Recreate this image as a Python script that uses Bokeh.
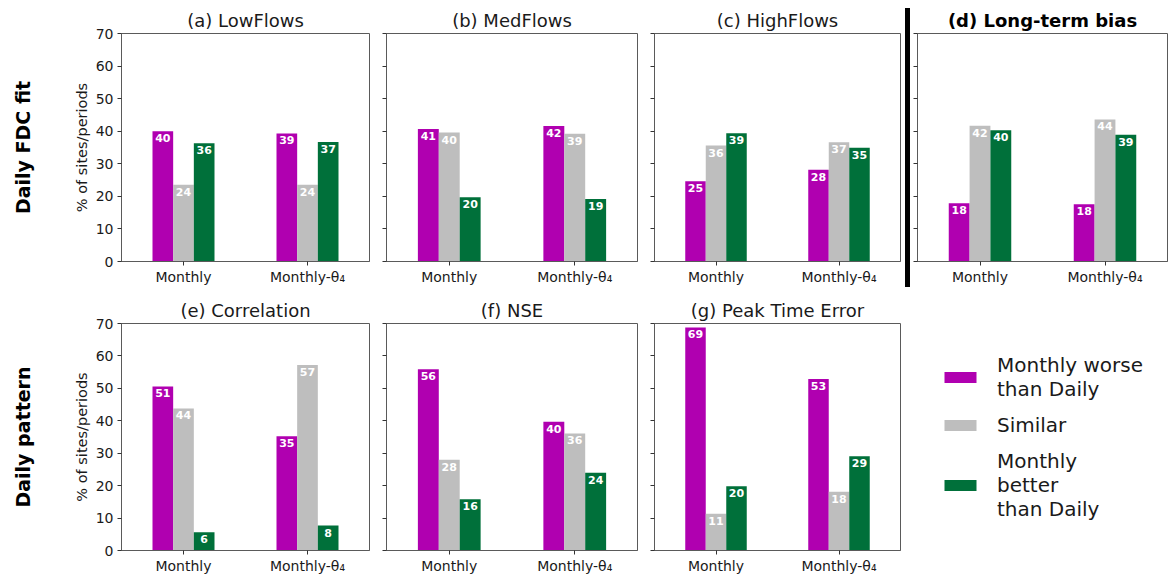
from math import pi
from bokeh.plotting import figure
from bokeh.models import (FactorRange, FixedTicker, Legend, LegendItem, Div, Label,
                          ColumnDataSource, CustomLabelingPolicy)
from bokeh.transform import dodge
from bokeh.layouts import row, column
from bokeh.embed import file_html
from bokeh.resources import INLINE
from bokeh.core.properties import value

# ---------------- data ----------------
groups = ["Monthly", "Monthly-θ₄"]
legend_labels = ["Monthly worse\nthan Daily", "Similar", "Monthly\nbetter\nthan Daily"]
colors = ["#b000b0", "#bebebe", "#00703a"]
row_labels = ["Daily FDC fit", "Daily pattern"]
y_label = "% of sites/periods"

titles = ["(a) LowFlows", "(b) MedFlows", "(c) HighFlows", "(d) Long-term bias",
          "(e) Correlation", "(f) NSE", "(g) Peak Time Error"]

lowflows_worse = [40.0, 39.3]
lowflows_similar = [23.6, 23.6]
lowflows_better = [36.3, 36.7]

medflows_worse = [40.7, 41.6]
medflows_similar = [39.6, 39.2]
medflows_better = [19.7, 19.2]

highflows_worse = [24.6, 28.2]
highflows_similar = [35.6, 36.6]
highflows_better = [39.4, 34.9]

bias_worse = [17.9, 17.6]
bias_similar = [41.7, 43.6]
bias_better = [40.3, 38.9]

corr_worse = [50.6, 35.2]
corr_similar = [43.8, 57.2]
corr_better = [5.6, 7.7]

nse_worse = [55.9, 39.7]
nse_similar = [28.0, 36.1]
nse_better = [15.8, 24.0]

peak_worse = [68.8, 52.9]
peak_similar = [11.3, 18.1]
peak_better = [19.8, 29.1]

panel_data = [
    (lowflows_worse, lowflows_similar, lowflows_better),
    (medflows_worse, medflows_similar, medflows_better),
    (highflows_worse, highflows_similar, highflows_better),
    (bias_worse, bias_similar, bias_better),
    (corr_worse, corr_similar, corr_better),
    (nse_worse, nse_similar, nse_better),
    (peak_worse, peak_similar, peak_better),
]

FONT = "DejaVu Sans"
TXT = "#1a1a1a"
SPINE = "#5a5a5a"
BAR_W = 1 / 6

HIDE_LABELS = """
if (typeof indices.clear === "function") {
  indices.clear()
} else {
  for (const i of [...indices]) indices.unset(i)
}
return indices
"""


def make_panel(idx, frame_w, frame_h, lb, rb, tb, bb, first_col=False, bold=False):
    worse, similar, better = panel_data[idx]
    p = figure(x_range=FactorRange(factors=groups), y_range=(0, 70),
               frame_width=frame_w, frame_height=frame_h,
               min_border_left=lb, min_border_right=rb,
               min_border_top=tb, min_border_bottom=bb,
               output_backend="svg", toolbar_location=None,
               title=titles[idx])
    src = ColumnDataSource(dict(
        group=groups, worse=worse, similar=similar, better=better,
        worse_l=[f"{v:.0f}" for v in worse],
        similar_l=[f"{v:.0f}" for v in similar],
        better_l=[f"{v:.0f}" for v in better],
    ))
    rends = []
    for k, (col, off) in enumerate(zip(["worse", "similar", "better"], [-BAR_W, 0, BAR_W])):
        r = p.vbar(x=dodge("group", off, range=p.x_range), top=col, width=BAR_W,
                   source=src, fill_color=colors[k], line_color=None)
        rends.append(r)
        p.text(x=dodge("group", off, range=p.x_range), y=col, text=col + "_l",
               source=src, text_align="center", text_baseline="top", y_offset=3,
               text_color="white", text_font_style="bold", text_font_size="11px",
               text_font=value(FONT))

    p.title.align = "center"
    p.title.text_font = FONT
    p.title.text_font_size = "18px"
    p.title.text_font_style = "bold" if bold else "normal"
    p.title.text_color = "black" if bold else TXT
    p.title.standoff = 5

    p.xgrid.visible = False
    p.ygrid.visible = False
    p.outline_line_color = SPINE
    p.outline_line_width = 1

    for ax in (p.xaxis[0], p.yaxis[0]):
        ax.axis_line_color = SPINE
        ax.major_tick_line_color = "#333333"
        ax.major_tick_in = 0
        ax.major_tick_out = 4
        ax.minor_tick_in = 0
        ax.minor_tick_out = 0
        ax.major_label_text_font = FONT
        ax.major_label_text_font_size = "14px"
        ax.major_label_text_color = TXT
    p.xaxis.major_label_standoff = 3
    p.yaxis.ticker = FixedTicker(ticks=list(range(0, 71, 10)))

    if first_col:
        p.yaxis.major_label_standoff = 4
        p.yaxis.axis_label = y_label
        p.yaxis.axis_label_text_font = FONT
        p.yaxis.axis_label_text_font_size = "14.5px"
        p.yaxis.axis_label_text_font_style = "normal"
        p.yaxis.axis_label_text_color = TXT
        p.yaxis.axis_label_standoff = 3
    else:
        p.yaxis.major_label_text_font_size = "0px"
        p.yaxis.major_label_standoff = 0
        p.yaxis.major_label_policy = CustomLabelingPolicy(code=HIDE_LABELS)
    return p, rends


def make_row_label(text, frame_h, tb, bb):
    p = figure(x_range=(0, 1), y_range=(0, 1), frame_width=44, frame_height=frame_h,
               min_border_left=0, min_border_right=0, min_border_top=tb, min_border_bottom=bb,
               x_axis_type=None, y_axis_type=None, output_backend="svg", toolbar_location=None)
    p.outline_line_color = None
    p.xgrid.visible = False
    p.ygrid.visible = False
    p.add_layout(Label(x=0.5, y=0.5, text=text, angle=pi / 2,
                       text_align="center", text_baseline="middle",
                       text_font=FONT, text_font_size="19px", text_font_style="bold",
                       text_color="black"))
    return p


FH_TOP = 228
FH_BOT = 227
TOP_T, TOP_B = 33, 32
BOT_T, BOT_B = 30, 10

la = make_row_label(row_labels[0], FH_TOP, TOP_T, TOP_B)
pa, _ = make_panel(0, 248, FH_TOP, 77, 8, TOP_T, TOP_B, first_col=True)
pb, _ = make_panel(1, 251, FH_TOP, 9, 8, TOP_T, TOP_B)
pc, _ = make_panel(2, 246, FH_TOP, 9, 5, TOP_T, TOP_B)
pd, _ = make_panel(3, 250, FH_TOP, 7, 1, TOP_T, TOP_B, bold=True)

le = make_row_label(row_labels[1], FH_BOT, BOT_T, BOT_B)
pe, _ = make_panel(4, 248, FH_BOT, 77, 8, BOT_T, BOT_B, first_col=True)
pf, _ = make_panel(5, 251, FH_BOT, 9, 8, BOT_T, BOT_B)
pg, rends = make_panel(6, 246, FH_BOT, 9, 262, BOT_T, BOT_B)

legend = Legend(items=[LegendItem(label=legend_labels[k], renderers=[rends[k]]) for k in range(3)],
                location=(40, 29), orientation="vertical",
                glyph_width=40, glyph_height=14, label_standoff=17,
                label_text_font=FONT, label_text_font_size="20px",
                label_text_color=TXT, label_text_line_height=1.2,
                spacing=12, padding=0, margin=0,
                border_line_color=None, background_fill_alpha=0)
pg.add_layout(legend, "right")

sep = Div(width=5, height=279, margin=(8, 0, 0, 0), styles={"background-color": "black"})

layout = column(row(la, pa, pb, pc, sep, pd, spacing=0),
                row(le, pe, pf, pg, spacing=0), spacing=0)

open("out.html", "w").write(file_html(layout, INLINE))
